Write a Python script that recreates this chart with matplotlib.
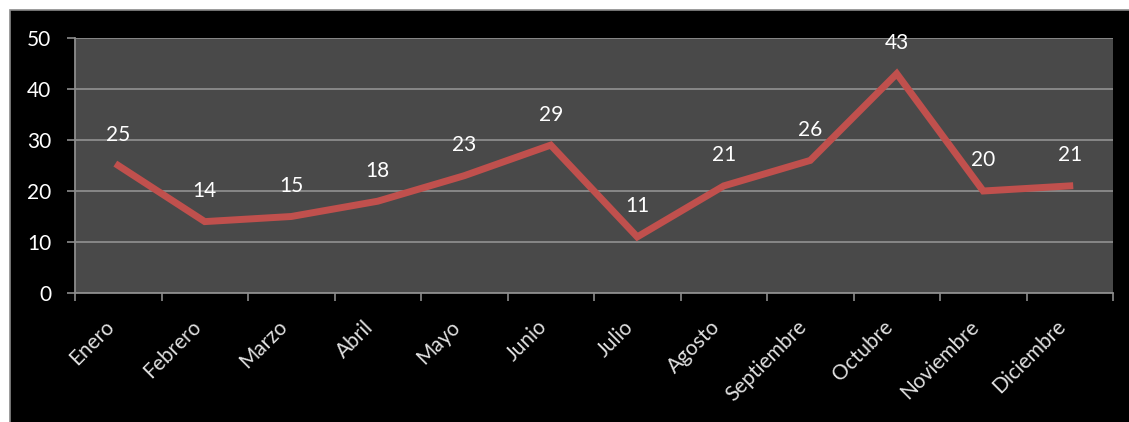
import matplotlib.pyplot as plt
import matplotlib.patches as mpatches
import numpy as np

# monthly values
months = ["Enero", "Febrero", "Marzo", "Abril", "Mayo", "Junio", "Julio",
          "Agosto", "Septiembre", "Octubre", "Noviembre", "Diciembre"]
values = [25, 14, 15, 18, 23, 29, 11, 21, 26, 43, 20, 21]
y_ticks = [0, 10, 20, 30, 40, 50]

plt.rcParams['font.family'] = ['Lato', 'DejaVu Sans']

fig = plt.figure(figsize=(11.29, 4.22), dpi=100, facecolor="white")

# black chart background with thin grey border (runs off right/bottom edges)
bg = mpatches.Rectangle((10 / 1129, -0.05), 1.1, 412 / 422 + 0.05,
                        transform=fig.transFigure, facecolor="black",
                        edgecolor="#8a8a8a", linewidth=1.2, zorder=-10)
fig.patches.append(bg)

ax = fig.add_axes([75 / 1129, (422 - 293) / 422, 1038 / 1129, 255 / 422])
ax.set_zorder(1)
ax.set_facecolor("#494949")

x = np.arange(len(months))
ax.plot(x, values, color="#c0504d", linewidth=5, solid_joinstyle="miter", zorder=3)

for xi, v in zip(x, values):
    ax.annotate(str(v), (xi, v), xytext=(0, 22), textcoords="offset points",
                ha="center", va="center", color="white", fontsize=15)

ax.set_xlim(-0.5, len(months) - 0.5)
ax.set_ylim(0, 50)
ax.set_yticks(y_ticks)
ax.grid(axis="y", color="#8c8c8c", linewidth=1.3)
ax.set_axisbelow(True)

ax.set_xticks(x)
ax.set_xticklabels(months, rotation=45, ha="right", va="top",
                   color="#e0e0e0", fontsize=15)
ax.set_xticks(np.arange(-0.5, len(months)), minor=True)
ax.tick_params(axis="x", which="major", length=0, pad=17)
ax.tick_params(axis="x", which="minor", length=6, width=1.2, color="#8c8c8c")
ax.tick_params(axis="y", length=6, width=1.2, color="#8c8c8c",
               labelcolor="white", labelsize=15, pad=11)

for side in ["top", "right"]:
    ax.spines[side].set_visible(False)
for side in ["left", "bottom"]:
    ax.spines[side].set_color("#8c8c8c")
    ax.spines[side].set_linewidth(1.3)

fig.savefig("out.png", dpi=100, facecolor="white")
